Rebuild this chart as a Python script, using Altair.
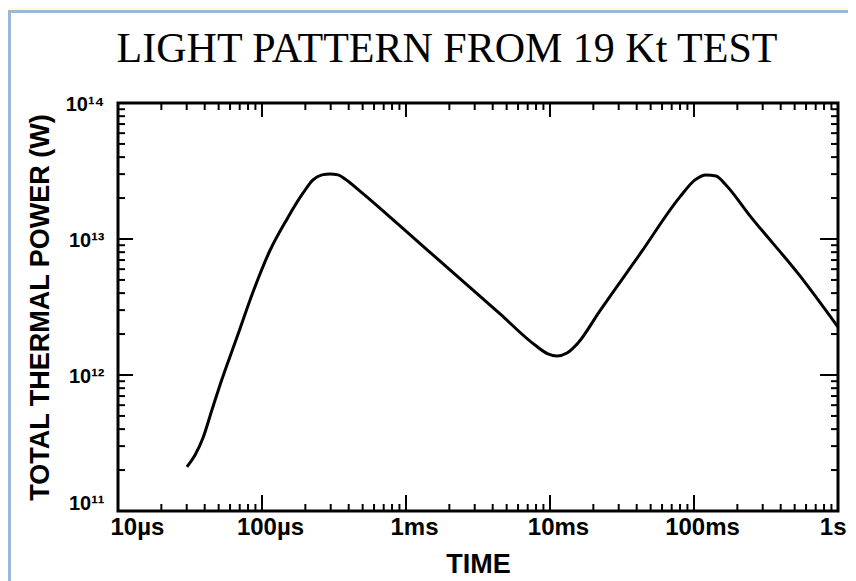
import json
import altair as alt
import pandas as pd

# ---------------- text ----------------
TITLE = "LIGHT PATTERN FROM 19 Kt TEST"
X_TITLE = "TIME"
Y_TITLE = "TOTAL THERMAL POWER (W)"

# ---------------- curve ----------------
time_s = [3.01e-5, 3.43e-5, 3.89e-5, 4.49e-5, 5.11e-5, 6.71e-5, 8.66e-5, 1.14e-4,
          1.49e-4, 1.93e-4, 2.26e-4, 2.61e-4, 2.97e-4, 3.37e-4, 3.77e-4, 4.79e-4,
          9.09e-4, 2.02e-3, 4.50e-3, 7.87e-3, 9.68e-3, 1.118e-2, 1.312e-2, 1.565e-2,
          2.22e-2, 4.22e-2, 7.99e-2, 0.1016, 0.1212, 0.1422, 0.1642, 0.2448,
          0.5446, 1.0]
power_w = [2.11e11, 2.58e11, 3.44e11, 5.53e11, 8.44e11, 1.90e12, 4.08e12, 8.30e12,
           1.40e13, 2.18e13, 2.72e13, 2.96e13, 3.01e13, 2.96e13, 2.76e13, 2.25e13,
           1.25e13, 5.92e12, 2.81e12, 1.66e12, 1.43e12, 1.38e12, 1.45e12, 1.72e12,
           2.96e12, 7.76e12, 2.04e13, 2.72e13, 2.96e13, 2.91e13, 2.54e13, 1.48e13,
           5.35e12, 2.25e12]

# ---------------- axes ----------------
x_tick_values = [1e-5, 1e-4, 1e-3, 1e-2, 1e-1, 1.0]
x_tick_labels = ["10µs", "100µs", "1ms", "10ms", "100ms", "1s"]
y_tick_values = [1e11, 1e12, 1e13, 1e14]
y_tick_labels = ["10¹¹", "10¹²", "10¹³", "10¹⁴"]
x_minor = [m * 10.0 ** e for e in range(-5, 0) for m in range(2, 10)]
y_minor = [m * 10.0 ** e for e in range(11, 14) for m in range(2, 10)]

W, H = 720, 408
SANS = "Liberation Sans"

xs = alt.Scale(type="log", domain=[1e-5, 1.0], nice=False)
ys = alt.Scale(type="log", domain=[1e11, 1e14], nice=False)

x_label_expr = json.dumps(x_tick_labels, ensure_ascii=False) + "[round(log(datum.value)/LN10)+5]"
y_label_expr = json.dumps(y_tick_labels, ensure_ascii=False) + "[round(log(datum.value)/LN10)-11]"

x_axis = alt.Axis(
    values=x_tick_values, labelExpr=x_label_expr, title=X_TITLE,
    ticks=False, domain=False, grid=False,
    labelFont=SANS, labelFontWeight="bold", labelFontSize=24, labelColor="black",
    labelPadding=4, labelFlush=True, labelFlushOffset=8,
    labelOffset={"condition": {"test": "datum.value > 0.00002 && datum.value < 0.5", "value": 8}, "value": 0},
    titleFont=SANS, titleFontWeight="bold", titleFontSize=27, titleColor="black",
    titlePadding=12, zindex=1)
y_axis = alt.Axis(
    values=y_tick_values, labelExpr=y_label_expr, title=Y_TITLE,
    ticks=False, domain=False, grid=False,
    labelFont=SANS, labelFontWeight="bold", labelFontSize=20, labelColor="black",
    labelPadding=14,
    labelOffset={"condition": {"test": "datum.value < 2e11", "value": -8}, "value": 1},
    titleFont=SANS, titleFontWeight="bold", titleFontSize=27, titleColor="black",
    titlePadding=11, zindex=1)

curve_df = pd.DataFrame({"t": time_s, "P": power_w})
one = pd.DataFrame({"k": [0]})

# page border: yellow strip and blue frame line at the top / left edge
yellow_top = alt.Chart(one).mark_rect(color="#FFFFCC").encode(
    x=alt.value(-110), x2=alt.value(W + 40), y=alt.value(-95), y2=alt.value(-93))
blue_top = alt.Chart(one).mark_rect(color="#9DB6DC").encode(
    x=alt.value(-110), x2=alt.value(W + 40), y=alt.value(-93), y2=alt.value(-90))
blue_left = alt.Chart(one).mark_rect(color="#9DB6DC").encode(
    x=alt.value(-110), x2=alt.value(-107), y=alt.value(-93), y2=alt.value(H + 90))

title_text = alt.Chart(pd.DataFrame({"title": [TITLE]})).mark_text(
    font="Liberation Serif", fontSize=42, color="black", align="center",
    baseline="alphabetic"
).encode(text="title:N", x=alt.value(329), y=alt.value(-41))

line = alt.Chart(curve_df).mark_line(
    color="black", strokeWidth=3, interpolate="monotone"
).encode(
    x=alt.X("t:Q", scale=xs, axis=x_axis),
    y=alt.Y("P:Q", scale=ys, axis=y_axis),
)


def xticks(vals, length, top):
    df = pd.DataFrame({"t": vals})
    y0, y1 = (0, length) if top else (H, H - length)
    return alt.Chart(df).mark_rule(color="black", strokeWidth=2).encode(
        x=alt.X("t:Q", scale=xs, axis=x_axis), y=alt.value(y0), y2=alt.value(y1))


def yticks(vals, length, right):
    df = pd.DataFrame({"P": vals})
    x0, x1 = (W, W - length) if right else (0, length)
    return alt.Chart(df).mark_rule(color="black", strokeWidth=2).encode(
        y=alt.Y("P:Q", scale=ys, axis=y_axis), x=alt.value(x0), x2=alt.value(x1))


ticks = [
    xticks(x_tick_values, 16, False), xticks(x_minor, 7, False),
    xticks(x_tick_values, 14, True), xticks(x_minor, 7, True),
    yticks(y_tick_values, 15, False), yticks(y_minor, 7, False),
    yticks(y_tick_values, 18, True), yticks(y_minor, 7, True),
]

frame = alt.Chart(one).mark_rect(fill="transparent", stroke="black", strokeWidth=3).encode(
    x=alt.value(0), x2=alt.value(W), y=alt.value(0), y2=alt.value(H))

chart = alt.layer(line, yellow_top, blue_top, blue_left, title_text, *ticks, frame).properties(
    width=W, height=H,
    background="white",
    padding={"left": 110, "top": 95, "right": 10, "bottom": 70},
    autosize=alt.AutoSizeParams(type="none"),
).configure_view(strokeWidth=0)

chart.save("out.html", embed_options={"renderer": "svg", "actions": False})
